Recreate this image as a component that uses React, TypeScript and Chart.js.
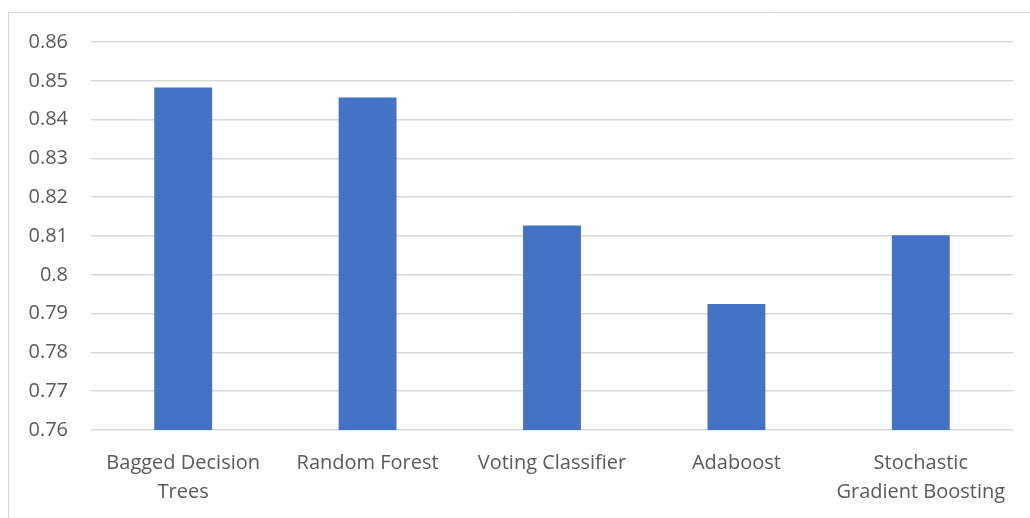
import React, { useEffect, useRef } from "react";
import { Chart, registerables } from "chart.js";

Chart.register(...registerables);

// Model names (multi-line where the axis label wraps)
const categories: (string | string[])[] = [
  ["Bagged Decision", "Trees"],
  "Random Forest",
  "Voting Classifier",
  "Adaboost",
  ["Stochastic", "Gradient Boosting"],
];

// Accuracy per model
const accuracy: number[] = [0.8483, 0.8457, 0.8127, 0.7925, 0.8102];

// Value axis range
const yMin = 0.76;
const yMax = 0.86;
const yStep = 0.01;

const FONT = "'Open Sans', sans-serif";
const TEXT_COLOR = "#595959";
const GRID_COLOR = "#d9d9d9";
const BAR_COLOR = "#4472c4";

// Thin frame around the chart area (left and top edges visible)
const framePlugin = {
  id: "frame",
  beforeDraw(chart: Chart) {
    const ctx = chart.ctx;
    ctx.save();
    ctx.strokeStyle = GRID_COLOR;
    ctx.lineWidth = 1;
    ctx.beginPath();
    ctx.moveTo(8.5, chart.height + 2);
    ctx.lineTo(8.5, 12.5);
    ctx.lineTo(chart.width + 2, 12.5);
    ctx.stroke();
    ctx.restore();
  },
};

export default function App() {
  const canvasRef = useRef<HTMLCanvasElement | null>(null);

  useEffect(() => {
    if (!canvasRef.current) return;
    const chart = new Chart(canvasRef.current, {
      type: "bar",
      data: {
        labels: categories,
        datasets: [
          {
            data: accuracy,
            backgroundColor: BAR_COLOR,
            borderWidth: 0,
            barPercentage: 0.314,
            categoryPercentage: 1,
          },
        ],
      },
      options: {
        responsive: false,
        animation: false,
        layout: { padding: { top: 42, right: 17, left: 0, bottom: 0 } },
        plugins: {
          legend: { display: false },
          tooltip: { enabled: false },
        },
        scales: {
          x: {
            grid: { display: false },
            border: { display: false },
            ticks: {
              color: TEXT_COLOR,
              font: { family: FONT, size: 20, lineHeight: 1.45 },
              maxRotation: 0,
              autoSkip: false,
              padding: 11,
            },
            afterFit: (s: any) => {
              s.height = 88;
            },
          },
          y: {
            min: yMin,
            max: yMax,
            grid: { color: GRID_COLOR, lineWidth: 1.6, drawTicks: false },
            border: { display: false },
            ticks: {
              stepSize: yStep,
              color: TEXT_COLOR,
              font: { family: FONT, size: 20 },
              padding: 23,
              callback: (v: any) => String(Number(Number(v).toFixed(2))),
            },
            afterFit: (s: any) => {
              s.width = 91;
            },
          },
        },
      },
      plugins: [framePlugin],
    });
    return () => chart.destroy();
  }, []);

  return (
    <div style={{ position: "absolute", left: 0, top: 0, width: 1030, height: 518, background: "#fff" }}>
      <canvas ref={canvasRef} width={1030} height={518} />
    </div>
  );
}
